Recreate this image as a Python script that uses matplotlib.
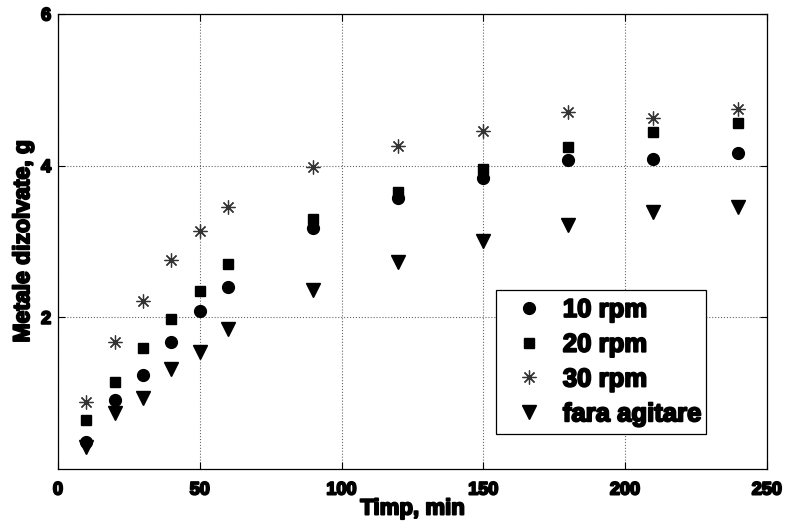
import matplotlib; matplotlib.use('Agg')
import matplotlib.pyplot as plt
import matplotlib.patheffects as pe

plt.rcParams.update({
    'font.family': 'Liberation Sans', 'font.weight': 'bold',
    'xtick.direction': 'in', 'ytick.direction': 'in',
    'xtick.top': True, 'ytick.right': True,
})
HEAVY = [pe.withStroke(linewidth=1.4, foreground='black')]

t = [10, 20, 30, 40, 50, 60, 90, 120, 150, 180, 210, 240]
rpm10 = [0.35, 0.91, 1.24, 1.68, 2.08, 2.40, 3.18, 3.57, 3.83, 4.07, 4.09, 4.16]
rpm20 = [0.64, 1.15, 1.60, 1.98, 2.35, 2.70, 3.30, 3.65, 3.96, 4.24, 4.44, 4.56]
rpm30 = [0.89, 1.68, 2.21, 2.75, 3.14, 3.45, 3.98, 4.26, 4.46, 4.70, 4.63, 4.75]
no_stir = [0.29, 0.74, 0.93, 1.32, 1.54, 1.85, 2.36, 2.73, 3.01, 3.22, 3.39, 3.45]

fig = plt.figure(figsize=(7.88, 5.28), dpi=100)
ax = fig.add_axes([0.0736, 0.1117, 0.8995, 0.862])

ax.plot(t, rpm10, 'o', color='black', ms=8.5, ls='none', label='10 rpm')
ax.plot(t, rpm20, 's', color='black', ms=7.5, ls='none', label='20 rpm')
ax.plot(t, rpm30, marker=(8, 2, 0), color='#333333', mew=0.9, ms=10, ls='none', label='30 rpm')
ax.plot(t, no_stir, 'v', color='black', ms=10, ls='none', label='fara agitare')

ax.set_xlim(0, 250)
ax.set_ylim(0, 6)
ax.set_xticks([0, 50, 100, 150, 200, 250])
ax.set_yticks([2, 4, 6])
ax.grid(True, ls=':', color='black', lw=0.8, alpha=0.6)
ax.tick_params(labelsize=13, length=5, width=0.8)
ax.tick_params(axis='x', pad=9)
ax.tick_params(axis='y', pad=5)
for lab in ax.get_xticklabels() + ax.get_yticklabels():
    lab.set_path_effects(HEAVY)
for s in ax.spines.values():
    s.set_linewidth(0.9)

ax.set_xlabel('Timp, min', fontsize=16, fontweight='bold', labelpad=0,
              path_effects=HEAVY)
ax.set_ylabel('Metale dizolvate, g', fontsize=16.5, fontweight='bold', labelpad=5,
              path_effects=HEAVY)

leg = ax.legend(loc='lower left', bbox_to_anchor=(0.618, 0.077, 0.296, 0.323),
                mode='expand', borderaxespad=0, fontsize=18.5, fancybox=False,
                framealpha=1, edgecolor='black', labelspacing=0.42,
                handletextpad=0.3, borderpad=0.3, handlelength=2.0)
leg.get_frame().set_linewidth(0.9)
for txt in leg.get_texts():
    txt.set_path_effects(HEAVY)

fig.savefig('out.png')
